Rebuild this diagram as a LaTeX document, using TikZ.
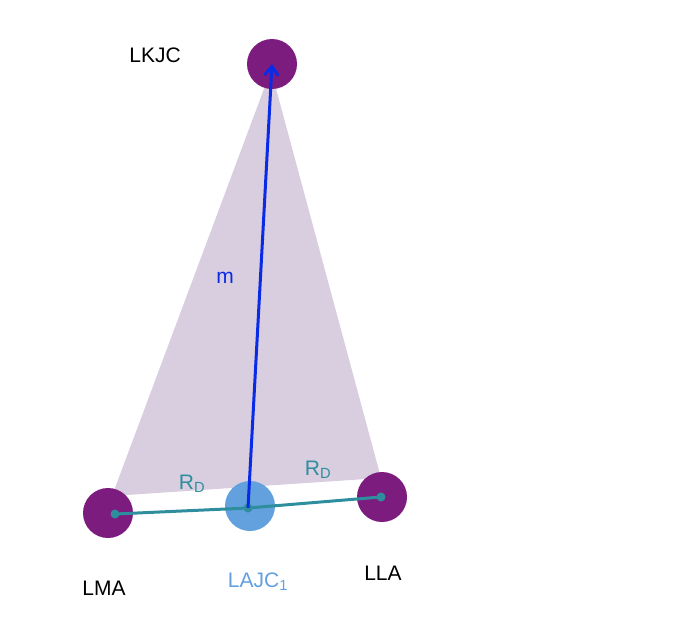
\documentclass[tikz,border=0pt]{standalone}
\usepackage{fontspec}
\setmainfont{Liberation Sans}
\usetikzlibrary{arrows.meta}
\definecolor{plum}{HTML}{7B1C7E}
\definecolor{lav}{HTML}{D8CEE0}
\definecolor{teal2}{HTML}{2E8E9E}
\definecolor{lblue}{HTML}{62A0DE}
\definecolor{arrblue}{HTML}{0A2BE6}
\tikzset{
  joint/.style={circle,fill=plum,minimum size=50pt,inner sep=0pt},
  dot/.style={circle,fill=teal2,minimum size=9pt,inner sep=0pt},
  lbl/.style={font=\fontsize{21}{24}\selectfont},
}
\begin{document}
\begin{tikzpicture}[x=1pt,y=-1pt]
\useasboundingbox (0,0) rectangle (695,642);
\fill[lav] (271,70) -- (112,496) -- (381,478) -- cycle;
\node[joint] (lkjc) at (272,64) {};
\node[joint] (lma) at (108,513) {};
\node[joint] (lla) at (382,497) {};
\node[circle,fill=lblue,minimum size=50pt,inner sep=0pt] (lajc) at (250,506) {};
\node[dot] (dma) at (115,514) {};
\node[dot] (dla) at (381,497) {};
\node[dot] (dajc) at (248,508) {};
\draw[teal2,line width=3pt] (dma.center) -- (dajc.center) -- (dla.center);
\draw[arrblue,line width=3pt,-{Straight Barb[length=9pt,width=14pt]}] (dajc.center) -- (lkjc.center);
\node[lbl] (t1) at (155,55) {LKJC};
\node[lbl,text=arrblue] (t2) at (225,278) {m};
\node[lbl,text=teal2] (t3) at (192,484) {R\textsubscript{D}};
\node[lbl,text=teal2] (t4) at (318,470) {R\textsubscript{D}};
\node[lbl] (t5) at (104,588) {LMA};
\node[lbl,text=lblue] (t6) at (258,582) {LAJC\textsubscript{1}};
\node[lbl] (t7) at (383,573) {LLA};
\end{tikzpicture}
\end{document}
